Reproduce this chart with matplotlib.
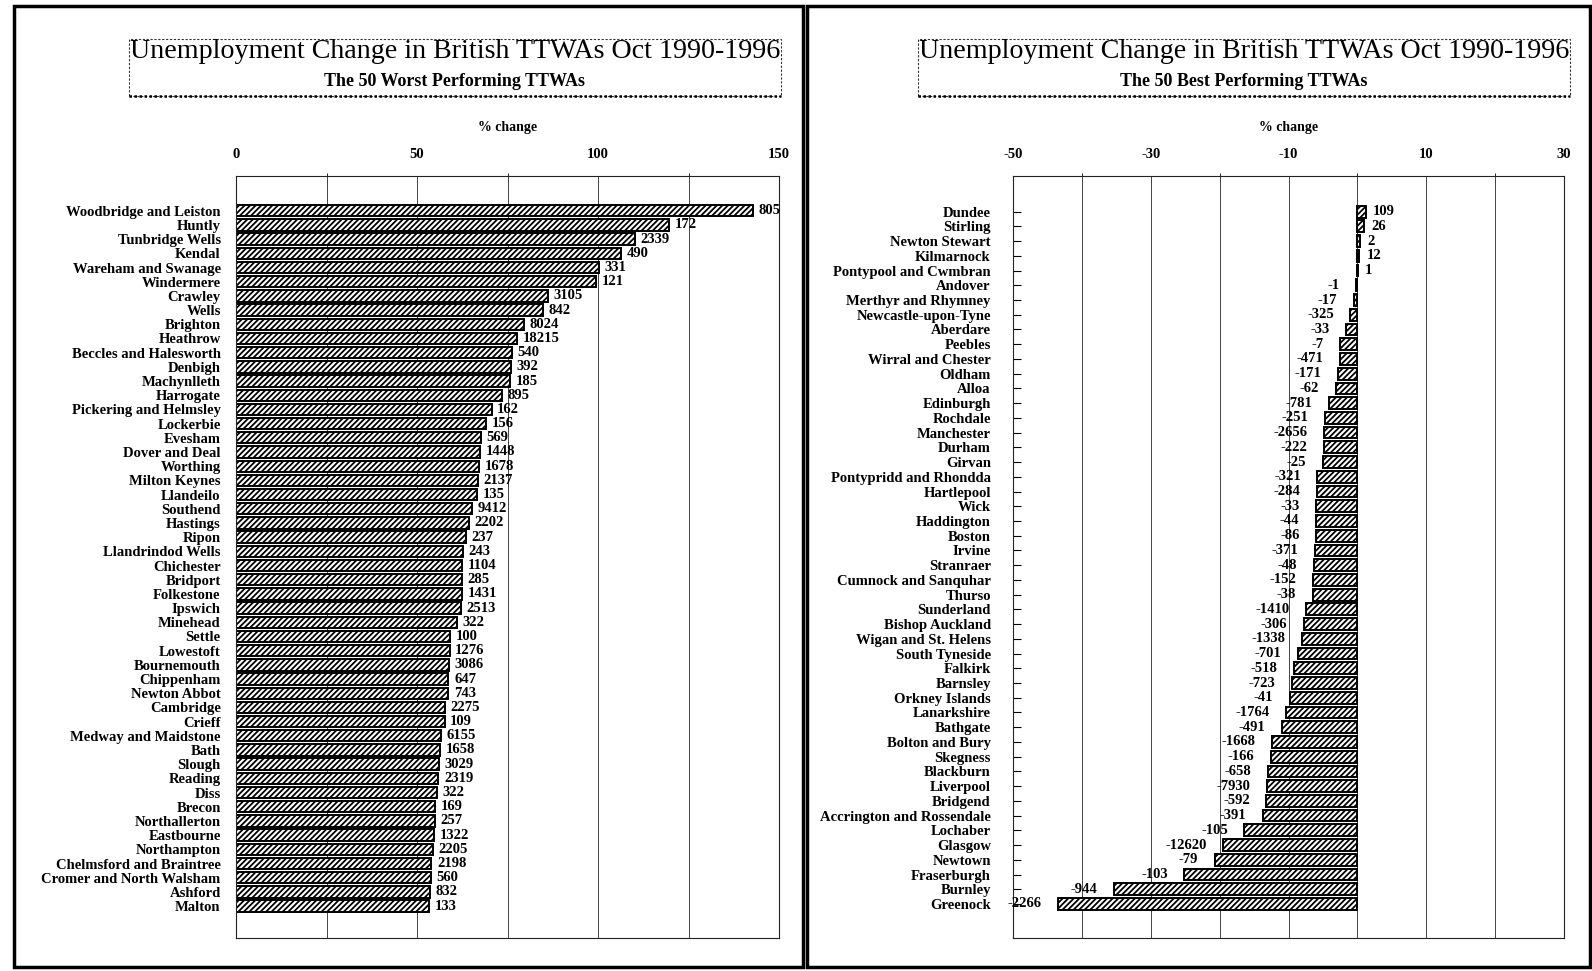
import numpy as np
import matplotlib
matplotlib.use("Agg")
import matplotlib.pyplot as plt
import matplotlib.patches as mpatches
from matplotlib.ticker import MultipleLocator

plt.rcParams["font.family"] = ["Liberation Serif", "DejaVu Serif"]
plt.rcParams["hatch.linewidth"] = 1.3
plt.rcParams["axes.unicode_minus"] = False

# ── data: worst performing TTWAs (% change, with claimant count change) ─────
worst_names = [
    "Woodbridge and Leiston", "Huntly", "Tunbridge Wells", "Kendal",
    "Wareham and Swanage", "Windermere", "Crawley", "Wells", "Brighton",
    "Heathrow", "Beccles and Halesworth", "Denbigh", "Machynlleth",
    "Harrogate", "Pickering and Helmsley", "Lockerbie", "Evesham",
    "Dover and Deal", "Worthing", "Milton Keynes", "Llandeilo", "Southend",
    "Hastings", "Ripon", "Llandrindod Wells", "Chichester", "Bridport",
    "Folkestone", "Ipswich", "Minehead", "Settle", "Lowestoft",
    "Bournemouth", "Chippenham", "Newton Abbot", "Cambridge", "Crieff",
    "Medway and Maidstone", "Bath", "Slough", "Reading", "Diss", "Brecon",
    "Northallerton", "Eastbourne", "Northampton", "Chelmsford and Braintree",
    "Cromer and North Walsham", "Ashford", "Malton",
]
worst_pct = [
    142.9, 119.7, 110.2, 106.4, 100.3, 99.5, 86.2, 84.7, 79.6, 77.6,
    76.2, 75.9, 75.8, 73.5, 70.6, 69.0, 67.6, 67.4, 67.2, 66.9,
    66.5, 65.3, 64.3, 63.5, 62.7, 62.5, 62.5, 62.4, 62.1, 61.1,
    59.1, 59.0, 58.8, 58.7, 58.6, 57.7, 57.6, 56.6, 56.3, 56.0,
    55.9, 55.5, 55.0, 54.9, 54.8, 54.3, 54.0, 53.8, 53.5, 53.3,
]
worst_count = [
    805, 172, 2339, 490, 331, 121, 3105, 842, 8024, 18215,
    540, 392, 185, 895, 162, 156, 569, 1448, 1678, 2137,
    135, 9412, 2202, 237, 243, 1104, 285, 1431, 2513, 322,
    100, 1276, 3086, 647, 743, 2275, 109, 6155, 1658, 3029,
    2319, 322, 169, 257, 1322, 2205, 2198, 560, 832, 133,
]

# ── data: best performing TTWAs ──────────────────────────────────────────────
best_names = [
    "Dundee", "Stirling", "Newton Stewart", "Kilmarnock",
    "Pontypool and Cwmbran", "Andover", "Merthyr and Rhymney",
    "Newcastle-upon-Tyne", "Aberdare", "Peebles", "Wirral and Chester",
    "Oldham", "Alloa", "Edinburgh", "Rochdale", "Manchester", "Durham",
    "Girvan", "Pontypridd and Rhondda", "Hartlepool", "Wick", "Haddington",
    "Boston", "Irvine", "Stranraer", "Cumnock and Sanquhar", "Thurso",
    "Sunderland", "Bishop Auckland", "Wigan and St. Helens", "South Tyneside",
    "Falkirk", "Barnsley", "Orkney Islands", "Lanarkshire", "Bathgate",
    "Bolton and Bury", "Skegness", "Blackburn", "Liverpool", "Bridgend",
    "Accrington and Rossendale", "Lochaber", "Glasgow", "Newtown",
    "Fraserburgh", "Burnley", "Greenock",
]
best_pct = [
    1.3, 1.0, 0.4, 0.3, 0.1, -0.15, -0.5, -1.0, -1.6, -2.5,
    -2.5, -2.8, -3.1, -4.1, -4.7, -4.8, -4.8, -5.0, -5.8, -5.9,
    -6.0, -6.0, -6.0, -6.2, -6.3, -6.4, -6.5, -7.4, -7.8, -8.0,
    -8.6, -9.2, -9.5, -9.8, -10.3, -10.9, -12.4, -12.6, -13.0, -13.1,
    -13.2, -13.7, -16.4, -19.5, -20.7, -25.1, -35.4, -43.4,
]
best_count = [
    109, 26, 2, 12, 1, -1, -17, -325, -33, -7,
    -471, -171, -62, -781, -251, -2656, -222, -25, -321, -284,
    -33, -44, -86, -371, -48, -152, -38, -1410, -306, -1338,
    -701, -518, -723, -41, -1764, -491, -1668, -166, -658, -7930,
    -592, -391, -105, -12620, -79, -103, -944, -2266,
]

TITLE = "Unemployment Change in British TTWAs Oct 1990-1996"

# Shared style
W, H = 1592, 971
BAR_HEIGHT = 0.8
HATCH = "//////"
LABEL_SIZE = 10.5
GRID_COLOR = "#444444"


def fx(px):
    return px / W


def fy(py):
    return 1 - py / H


def style_ax(ax, pad):
    ax.xaxis.tick_top()
    ax.xaxis.set_label_position("top")
    ax.tick_params(axis="x", length=0, pad=11, labelsize=LABEL_SIZE)
    ax.tick_params(axis="y", direction="in", length=6, width=0.8,
                   pad=pad, labelsize=LABEL_SIZE)
    for lab in ax.get_xticklabels() + ax.get_yticklabels():
        lab.set_fontweight("bold")
    ax.grid(axis="x", which="both", color=GRID_COLOR, linewidth=0.7)
    ax.set_axisbelow(True)
    for s in ax.spines.values():
        s.set_linewidth(0.8)
        s.set_color("#222222")
    ax.set_xlabel("% change", fontsize=10, fontweight="bold", labelpad=12)


def add_frame(fig, x0, x1, cx, subtitle):
    # outer panel frame
    fig.patches.append(mpatches.Rectangle(
        (fx(x0), fy(967)), fx(x1 - x0), (967 - 6) / H,
        transform=fig.transFigure, fill=False, edgecolor="black", linewidth=2.5))
    # dotted title box
    bx0, bx1 = cx - 326, cx + 326
    fig.patches.append(mpatches.Rectangle(
        (fx(bx0), fy(96)), fx(bx1 - bx0), (96 - 39) / H,
        transform=fig.transFigure, fill=False, edgecolor="#333333",
        linewidth=0.8, linestyle=(0, (2, 1.5))))
    fig.lines.append(plt.Line2D([fx(bx0), fx(bx1)], [fy(96), fy(96)],
                                transform=fig.transFigure, color="black",
                                linewidth=1.8, linestyle=(0, (1, 1))))
    fig.text(fx(cx), fy(52), TITLE, ha="center", va="center", fontsize=20.2)
    fig.text(fx(cx), fy(81), subtitle, ha="center", va="center",
             fontsize=13, fontweight="bold")


fig = plt.figure(figsize=(W / 100, H / 100), dpi=100)

# ── left panel: worst ────────────────────────────────────────────────────────
ax1 = fig.add_axes([fx(236), fy(938), fx(779 - 236), (938 - 176) / H])
y1 = np.arange(len(worst_names))
ax1.barh(y1, worst_pct, height=BAR_HEIGHT, color="white", edgecolor="black",
         hatch=HATCH, linewidth=1.4, zorder=2)
ax1.set_xlim(0, 150)
ax1.set_ylim(len(worst_names) + 1.25, -2.45)
ax1.set_xticks([0, 50, 100, 150])
ax1.xaxis.set_minor_locator(MultipleLocator(25))
ax1.set_yticks(y1)
ax1.set_yticklabels(worst_names)
style_ax(ax1, pad=11)
for yi, v, c in zip(y1, worst_pct, worst_count):
    ax1.annotate(str(c), xy=(v, yi), xytext=(4, 0), textcoords="offset points",
                 ha="left", va="center", fontsize=LABEL_SIZE, fontweight="bold")

# ── right panel: best ────────────────────────────────────────────────────────
ax2 = fig.add_axes([fx(1013), fy(938), fx(1564 - 1013), (938 - 176) / H])
y2 = np.arange(len(best_names))
ax2.barh(y2, best_pct, height=BAR_HEIGHT, color="white", edgecolor="black",
         hatch=HATCH, linewidth=1.4, zorder=2)
ax2.set_xlim(-50, 30)
ax2.set_ylim(len(best_names) + 1.31, -2.42)
ax2.set_xticks([-50, -30, -10, 10, 30])
ax2.xaxis.set_minor_locator(MultipleLocator(10))
ax2.set_yticks(y2)
ax2.set_yticklabels(best_names)
style_ax(ax2, pad=16)
for yi, v, c in zip(y2, best_pct, best_count):
    if c > 0:
        ax2.annotate(str(c), xy=(v, yi), xytext=(5, 0), textcoords="offset points",
                     ha="left", va="center", fontsize=LABEL_SIZE, fontweight="bold")
    else:
        ax2.annotate(str(c), xy=(v, yi), xytext=(-12, 0), textcoords="offset points",
                     ha="right", va="center", fontsize=LABEL_SIZE, fontweight="bold")

add_frame(fig, 14, 803, 455, "The 50 Worst Performing TTWAs")
add_frame(fig, 807, 1590, 1244, "The 50 Best Performing TTWAs")

fig.savefig("out.png", dpi=100)
